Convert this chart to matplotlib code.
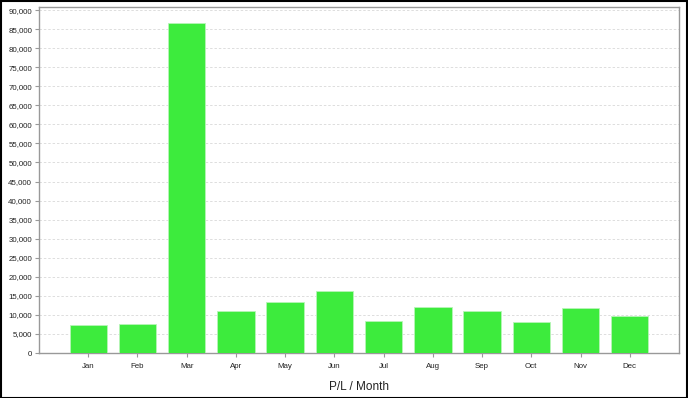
import matplotlib.pyplot as plt
from matplotlib.ticker import FuncFormatter, MultipleLocator
from matplotlib.patches import Rectangle

months = ["Jan", "Feb", "Mar", "Apr", "May", "Jun", "Jul", "Aug", "Sep", "Oct", "Nov", "Dec"]
pl = [7250, 7600, 86600, 11000, 13300, 16300, 8400, 12100, 11000, 8200, 11800, 9600]

plt.rcParams["font.family"] = ["Liberation Sans", "DejaVu Sans"]

W, H = 688, 398
fig = plt.figure(figsize=(W / 100, H / 100), dpi=100)
fig.patch.set_facecolor("white")
# black frame around the whole image
fig.patches.append(Rectangle((0.5 / W, 0.5 / H), 1 - 1.5 / W, 1 - 1.5 / H, transform=fig.transFigure,
                             fill=False, edgecolor="black", linewidth=1.5))

ax = fig.add_axes([39 / W, 1 - 353 / H, (679 - 39) / W, (353 - 7) / H])
x = list(range(1, 13))
ax.bar(x, pl, width=0.76, color="#3deb3d", edgecolor="#b8f5b8", linewidth=0.6, zorder=3)

ax.set_xlim(0, 13)
ax.set_ylim(0, 90800)
ax.yaxis.set_major_locator(MultipleLocator(5000))
ax.yaxis.set_major_formatter(FuncFormatter(lambda v, p: f"{int(v):,}"))
ax.set_xticks(x)
ax.set_xticklabels(months)
ax.grid(axis="y", color="#dddddd", linestyle=(0, (2.5, 2)), linewidth=0.7, zorder=0)

for s in ax.spines.values():
    s.set_color("#999999")
    s.set_linewidth(1)
ax.tick_params(axis="both", colors="#999999", labelcolor="#222222", labelsize=5.7, length=3, width=0.8)
ax.tick_params(axis="y", pad=2)
ax.tick_params(axis="x", pad=4)
ax.set_xlabel("P/L / Month", fontsize=8.5, color="#222222", labelpad=8)

fig.savefig("out.png", dpi=100)
